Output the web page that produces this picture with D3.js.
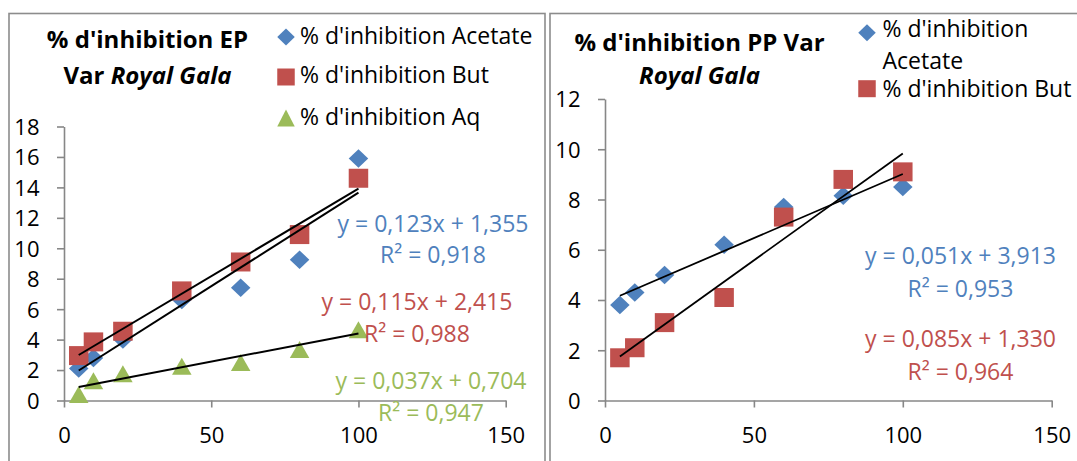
<!DOCTYPE html>
<html>
<head>
<meta charset="utf-8">
<script src="https://cdn.jsdelivr.net/npm/d3@7"></script>
<style>
  html, body { margin: 0; padding: 0; background: #fff; }
  svg { display: block; }
  text { font-variant-ligatures: none; font-kerning: normal; }
</style>
</head>
<body>
<svg id="chart" width="1077" height="461"></svg>
<script>
// ---------- DATA ----------
const concentrations = [5, 10, 20, 40, 60, 80, 100];
const xTickValues = [0, 50, 100, 150];
const epYTickValues = [0, 2, 4, 6, 8, 10, 12, 14, 16, 18];
const ppYTickValues = [0, 2, 4, 6, 8, 10, 12];

// EP (left)
const epAcetate = [2.1, 2.8, 4.0, 6.6, 7.4, 9.25, 15.9];
const epBut     = [2.95, 3.85, 4.55, 7.2, 9.1, 10.9, 14.6];
const epAq      = [0.4, 1.3, 1.75, 2.25, 2.5, 3.35, 4.65];
const epNames   = ["% d'inhibition Acetate", "% d'inhibition But", "% d'inhibition Aq"];
const epSlopes     = [0.123, 0.115, 0.037];
const epIntercepts = [1.355, 2.415, 0.704];
const epEquations  = ["y = 0,123x + 1,355", "y = 0,115x + 2,415", "y = 0,037x + 0,704"];
const epR2         = ["R² = 0,918", "R² = 0,988", "R² = 0,947"];
const epTitle1 = "% d'inhibition EP";
const epTitle2a = "Var ";
const epTitle2b = "Royal Gala";

// PP (right)
const ppAcetate = [3.8, 4.3, 5.0, 6.2, 7.7, 8.15, 8.5];
const ppBut     = [1.7, 2.1, 3.1, 4.1, 7.3, 8.8, 9.1];
const ppNames   = [["% d'inhibition", "Acetate"], ["% d'inhibition But"]];
const ppSlopes     = [0.051, 0.085];
const ppIntercepts = [3.913, 1.330];
const ppEquations  = ["y = 0,051x + 3,913", "y = 0,085x + 1,330"];
const ppR2         = ["R² = 0,953", "R² = 0,964"];
const ppTitle1 = "% d'inhibition PP Var";
const ppTitle2 = "Royal Gala";

// ---------- STYLE ----------
const COLORS = ["#4F81BD", "#C0504D", "#9BBB59"];
const SHAPES = ["diamond", "square", "triangle"];
const FONT = "'Open Sans', sans-serif";
const AXIS_COLOR = "#878787";

function shapePath(shape, w, h) {
  const p = d3.path();
  if (shape === "diamond") {
    p.moveTo(0, -h / 2); p.lineTo(w / 2, 0); p.lineTo(0, h / 2); p.lineTo(-w / 2, 0); p.closePath();
  } else if (shape === "square") {
    p.rect(-w / 2, -h / 2, w, h);
  } else {
    p.moveTo(0, -h / 2); p.lineTo(w / 2, h / 2); p.lineTo(-w / 2, h / 2); p.closePath();
  }
  return p.toString();
}
const MARKER_DIMS = { diamond: [19.5, 18.5], square: [19.5, 19], triangle: [19.5, 17] };

const svg = d3.select("#chart");
svg.append("rect").attr("width", 1077).attr("height", 461).attr("fill", "#fff");

function drawPanel(cfg) {
  const g = svg.append("g");
  // frame
  g.append("rect")
    .attr("x", cfg.frame[0]).attr("y", cfg.frame[1])
    .attr("width", cfg.frame[2]).attr("height", cfg.frame[3])
    .attr("fill", "#fff").attr("stroke", "#8c8c8c").attr("stroke-width", 1.6);

  const x = d3.scaleLinear().domain([0, 150]).range(cfg.xRange);
  const y = d3.scaleLinear().domain([0, cfg.yMax]).range(cfg.yRange);

  // axes
  const yAxis = d3.axisLeft(y).tickValues(cfg.yTicks).tickSize(7).tickSizeOuter(0).tickPadding(17.5);
  const gy = g.append("g").attr("transform", `translate(${cfg.xRange[0]},0)`).call(yAxis);
  const xAxis = d3.axisBottom(x).tickValues(xTickValues).tickSize(7).tickSizeOuter(0);
  const gx = g.append("g").attr("transform", `translate(0,${cfg.yRange[0]})`).call(xAxis);
  [gx, gy].forEach(a => {
    a.attr("font-family", FONT).attr("font-size", 22);
    a.selectAll("path, line").attr("stroke", AXIS_COLOR).attr("stroke-width", 1.6);
    a.selectAll("text").attr("fill", "#000");
  });
  gy.selectAll("text").attr("dy", "0.36em");
  gx.selectAll("text").attr("dy", null).attr("y", 42.8);

  // markers
  cfg.series.forEach(s => {
    const [w, h] = MARKER_DIMS[s.shape];
    g.append("g").selectAll("path")
      .data(concentrations.map((c, i) => [c, s.values[i]]))
      .join("path")
      .attr("d", shapePath(s.shape, w, h))
      .attr("transform", d => `translate(${x(d[0])},${y(d[1])})`)
      .attr("fill", s.color);
  });

  // trendlines
  const line = d3.line().x(d => x(d[0])).y(d => y(d[1]));
  const xr = d3.extent(concentrations);
  cfg.series.forEach(s => {
    g.append("path")
      .attr("d", line(xr.map(v => [v, s.slope * v + s.intercept])))
      .attr("stroke", "#000").attr("stroke-width", cfg.trendWidth).attr("fill", "none");
  });

  // equations
  cfg.series.forEach((s, i) => {
    const p = cfg.eqPos[i];
    const t = g.append("text").attr("font-family", FONT).attr("font-size", 23)
      .attr("fill", s.color).attr("text-anchor", "middle");
    t.append("tspan").attr("x", p[0]).attr("y", p[1]).text(s.eq);
    t.append("tspan").attr("x", p[0]).attr("y", p[2]).text(s.r2);
  });

  // title
  const tt = g.append("text").attr("font-family", FONT).attr("font-size", 24)
    .attr("font-weight", "bold").attr("text-anchor", "middle").attr("fill", "#000");
  tt.append("tspan").attr("x", cfg.title.cx).attr("y", cfg.title.y1).text(cfg.title.line1);
  if (cfg.title.line2a) {
    tt.append("tspan").attr("x", cfg.title.cx).attr("y", cfg.title.y2).text(cfg.title.line2a);
    tt.append("tspan").attr("font-style", "italic").text(cfg.title.line2b);
  } else {
    tt.append("tspan").attr("x", cfg.title.cx).attr("y", cfg.title.y2)
      .attr("font-style", "italic").text(cfg.title.line2b);
  }

  // legend
  cfg.series.forEach((s, i) => {
    const L = cfg.legend[i];
    g.append("path").attr("d", shapePath(s.shape, 17.5, 17))
      .attr("transform", `translate(${L.mx},${L.my})`).attr("fill", s.color);
    const lt = g.append("text").attr("font-family", FONT).attr("font-size", 23).attr("fill", "#000");
    s.nameLines.forEach((ln, k) => {
      lt.append("tspan").attr("x", L.tx).attr("y", L.ty + k * L.lh).text(ln);
    });
  });
}

function buildSeries(valuesList, names, slopes, intercepts, eqs, r2s) {
  return valuesList.map((v, i) => ({
    values: v, nameLines: Array.isArray(names[i]) ? names[i] : [names[i]],
    color: COLORS[i], shape: SHAPES[i], slope: slopes[i], intercept: intercepts[i],
    eq: eqs[i], r2: r2s[i]
  }));
}

drawPanel({
  frame: [9, 13.5, 536, 470],
  xRange: [64, 505.7], yRange: [400.5, 126.5], yMax: 18, yTicks: epYTickValues,
  trendWidth: 2,
  series: buildSeries([epAcetate, epBut, epAq], epNames, epSlopes, epIntercepts, epEquations, epR2),
  eqPos: [[433, 231.7, 263.3], [417, 310, 341.7], [431, 389.3, 420.7]],
  title: { cx: 147.5, y1: 47.7, y2: 84, line1: epTitle1, line2a: epTitle2a, line2b: epTitle2b },
  legend: [
    { mx: 286, my: 37, tx: 300, ty: 44, lh: 0 },
    { mx: 286, my: 77, tx: 300, ty: 83.3, lh: 0 },
    { mx: 286, my: 118, tx: 300, ty: 125, lh: 0 }
  ]
});

drawPanel({
  frame: [550, 13.5, 560, 470],
  xRange: [605, 1051.7], yRange: [400.5, 99], yMax: 12, yTicks: ppYTickValues,
  trendWidth: 1.8,
  series: buildSeries([ppAcetate, ppBut], ppNames, ppSlopes, ppIntercepts, ppEquations, ppR2),
  eqPos: [[960.5, 264.3, 296.7], [960.5, 346.7, 380]],
  title: { cx: 699.5, y1: 50.7, y2: 84.3, line1: ppTitle1, line2a: "", line2b: ppTitle2 },
  legend: [
    { mx: 867, my: 32.7, tx: 882.5, ty: 36.7, lh: 32.6 },
    { mx: 867, my: 88.7, tx: 882.5, ty: 96.7, lh: 0 }
  ]
});
</script>
</body>
</html>
